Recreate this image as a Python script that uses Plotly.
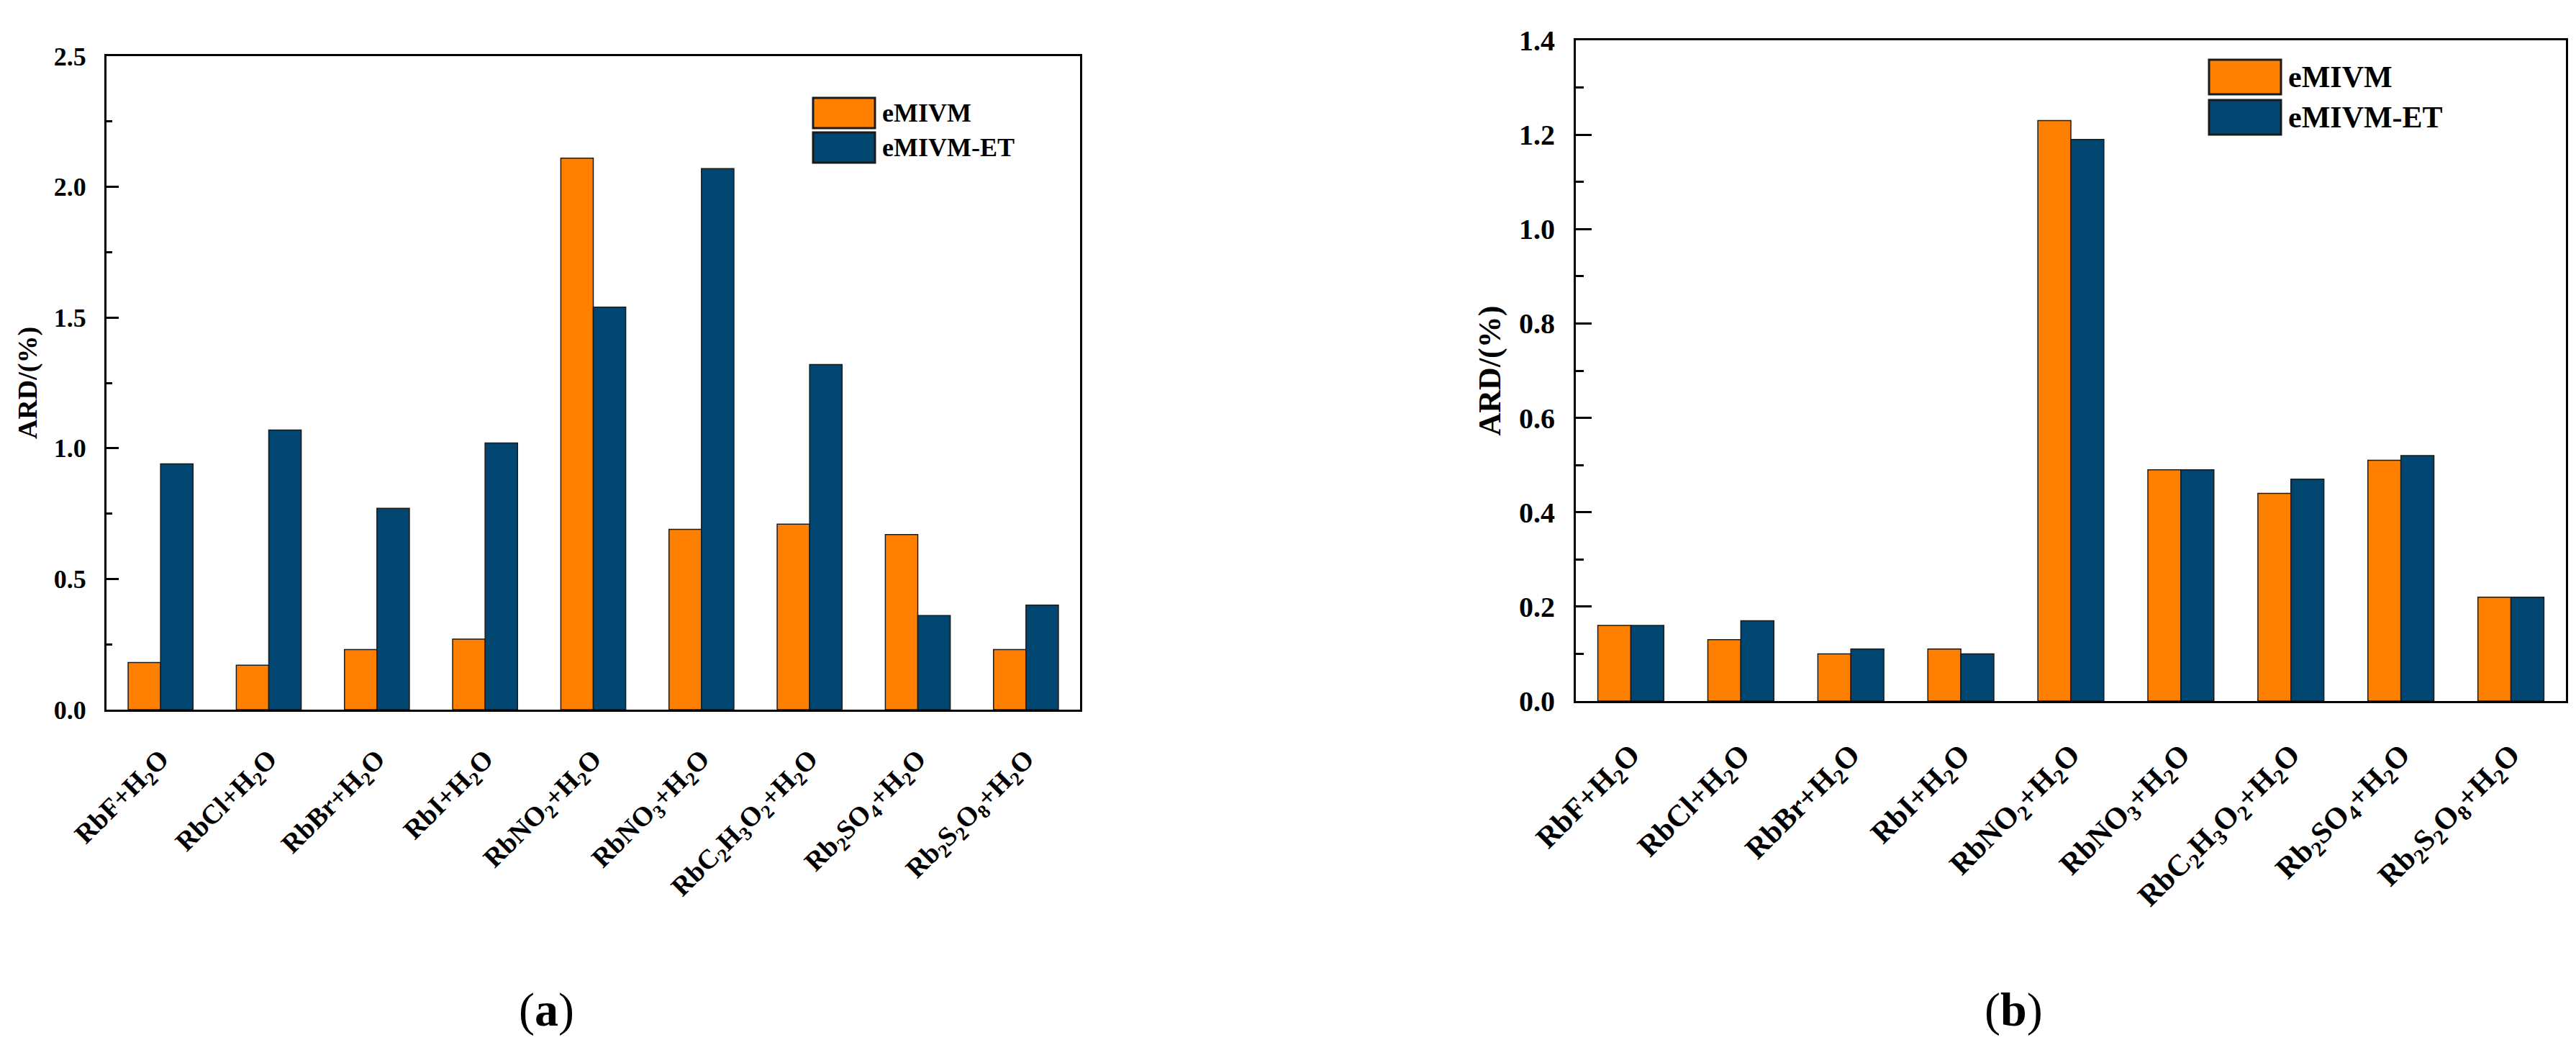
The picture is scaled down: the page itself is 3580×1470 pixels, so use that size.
import plotly.graph_objects as go

W, H = 3580, 1470

categories = [
    "RbF+H<sub>2</sub>O",
    "RbCl+H<sub>2</sub>O",
    "RbBr+H<sub>2</sub>O",
    "RbI+H<sub>2</sub>O",
    "RbNO<sub>2</sub>+H<sub>2</sub>O",
    "RbNO<sub>3</sub>+H<sub>2</sub>O",
    "RbC<sub>2</sub>H<sub>3</sub>O<sub>2</sub>+H<sub>2</sub>O",
    "Rb<sub>2</sub>SO<sub>4</sub>+H<sub>2</sub>O",
    "Rb<sub>2</sub>S<sub>2</sub>O<sub>8</sub>+H<sub>2</sub>O",
]

series_names = ["eMIVM", "eMIVM-ET"]

# panel (a)
a_emivm = [0.18, 0.17, 0.23, 0.27, 2.11, 0.69, 0.71, 0.67, 0.23]
a_emivm_et = [0.94, 1.07, 0.77, 1.02, 1.54, 2.07, 1.32, 0.36, 0.40]

# panel (b)
b_emivm = [0.16, 0.13, 0.10, 0.11, 1.23, 0.49, 0.44, 0.51, 0.22]
b_emivm_et = [0.16, 0.17, 0.11, 0.10, 1.19, 0.49, 0.47, 0.52, 0.22]

a_yticks = [0.0, 0.5, 1.0, 1.5, 2.0, 2.5]
b_yticks = [0.0, 0.2, 0.4, 0.6, 0.8, 1.0, 1.2, 1.4]

panel_labels = ["(<b>a</b>)", "(<b>b</b>)"]
y_title = "ARD/(%)"

ORANGE = "#FF8000"
BLUE = "#004670"
FONT = "Liberation Serif"

fig = go.Figure()

def add_bars(vals, name, color, xa, ya):
    fig.add_trace(go.Bar(
        x=categories, y=vals, name=name, xaxis=xa, yaxis=ya,
        marker=dict(color=color, line=dict(color="#1a1a1a", width=1.5)),
        showlegend=False,
    ))

add_bars(a_emivm, series_names[0], ORANGE, "x", "y")
add_bars(a_emivm_et, series_names[1], BLUE, "x", "y")
add_bars(b_emivm, series_names[0], ORANGE, "x2", "y2")
add_bars(b_emivm_et, series_names[1], BLUE, "x2", "y2")

def px_x(p):
    return p / W

def px_y(p):
    return 1 - p / H

def xaxis_cfg(dom, fsize, standoff, anchor):
    return dict(
        domain=dom, range=[-0.5, 8.5], showline=True, linecolor="black",
        linewidth=3, mirror=True, ticks="", tickangle=-45,
        tickfont=dict(family=FONT, size=fsize, color="black", weight="bold"),
        ticklabelstandoff=standoff, showgrid=False, zeroline=False,
        automargin=False, anchor=anchor,
    )

def yaxis_cfg(dom, rng, tickvals, minor_dt, fsize, tlen, tfsize, anchor):
    return dict(
        domain=dom, range=rng, tickvals=tickvals,
        ticktext=[f"{v:.1f}" for v in tickvals],
        showline=True, linecolor="black", linewidth=3, mirror=True,
        ticks="inside", ticklen=tlen, tickwidth=3, tickcolor="black",
        minor=dict(dtick=minor_dt, tick0=0, ticks="inside", ticklen=tlen // 2,
                   tickwidth=3, tickcolor="black", showgrid=False),
        tickfont=dict(family=FONT, size=fsize, color="black", weight="bold"),
        ticklabelstandoff=18,
        title=dict(text=y_title, standoff=12,
                   font=dict(family=FONT, size=tfsize, color="black", weight="bold")),
        showgrid=False, zeroline=False, anchor=anchor, automargin=False,
    )

fig.update_layout(
    width=W, height=H,
    margin=dict(l=0, r=0, t=0, b=0, autoexpand=False),
    paper_bgcolor="white", plot_bgcolor="white",
    barmode="group", bargap=0.4, bargroupgap=0,
    xaxis=xaxis_cfg([px_x(140), px_x(1493)], 38, 28, "y"),
    yaxis=yaxis_cfg([px_y(978), px_y(70)], [0, 2.5], a_yticks, 0.25, 36, 17, 38, "x"),
    xaxis2=xaxis_cfg([px_x(2182), px_x(3558)], 42, 30, "y2"),
    yaxis2=yaxis_cfg([px_y(966), px_y(48)], [0, 1.4], b_yticks, 0.1, 40, 22, 44, "x2"),
)

# custom legends (paper coordinates)
shapes = []
annotations = []

def legend(x0, x1, rows, tx, fsize):
    for (y0, y1), col, name in zip(rows, [ORANGE, BLUE], series_names):
        shapes.append(dict(type="rect", xref="paper", yref="paper",
                           x0=px_x(x0), x1=px_x(x1), y0=px_y(y1), y1=px_y(y0),
                           fillcolor=col, line=dict(color="#1a1a1a", width=3)))
        annotations.append(dict(xref="paper", yref="paper", x=px_x(tx),
                                y=px_y((y0 + y1) / 2), text=name, showarrow=False,
                                xanchor="left", yanchor="middle",
                                font=dict(family=FONT, size=fsize, color="black",
                                          weight="bold")))

legend(1122, 1208, [(128, 170), (176, 218)], 1216, 36)
legend(3062, 3162, [(75, 123), (131, 179)], 3170, 42)

for lab, cx in zip(panel_labels, [751, 2790]):
    annotations.append(dict(xref="paper", yref="paper", x=px_x(cx), y=px_y(1395),
                            text=lab, showarrow=False, xanchor="center",
                            yanchor="middle",
                            font=dict(family=FONT, size=66, color="black")))

fig.update_layout(shapes=shapes, annotations=annotations)

fig.write_html("out.html")
